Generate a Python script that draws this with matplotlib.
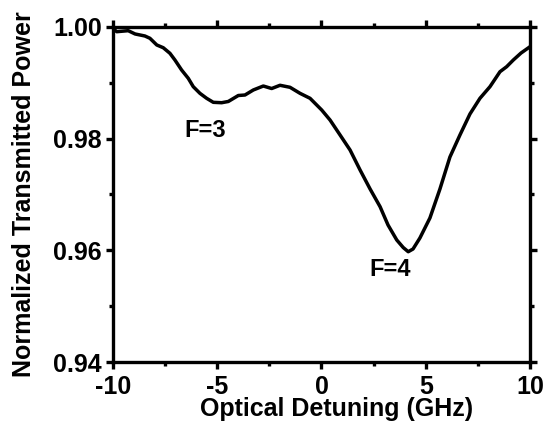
import numpy as np
import matplotlib.pyplot as plt
from matplotlib.ticker import MultipleLocator

# 그래프에서 읽은 값 (GHz, 정규화 투과율)
detuning = [-10.0, -9.82, -9.27, -8.94, -8.47, -8.23, -7.90, -7.59, -7.27, -7.03,
            -6.71, -6.39, -6.15, -5.83, -5.51, -5.19, -4.79, -4.47, -3.99, -3.67,
            -3.27, -2.79, -2.39, -1.99, -1.51, -1.03, -0.55, 0.01, 0.41, 0.89,
            1.37, 1.85, 2.33, 2.81, 3.19, 3.61, 3.92, 4.16, 4.39, 4.72,
            5.20, 5.68, 6.16, 6.64, 7.12, 7.60, 8.08, 8.56, 8.88, 9.20,
            9.57, 10.0]
power = [0.99973, 0.99916, 0.99934, 0.99875, 0.99839, 0.99798, 0.99678, 0.99629, 0.99529, 0.99409,
         0.99230, 0.99081, 0.98931, 0.98812, 0.98723, 0.98651, 0.98644, 0.98666, 0.98773, 0.98782,
         0.98872, 0.98943, 0.98898, 0.98956, 0.98920, 0.98812, 0.98723, 0.98513, 0.98334, 0.98066,
         0.97797, 0.97439, 0.97099, 0.96781, 0.96454, 0.96185, 0.96050, 0.95975, 0.96024, 0.96221,
         0.96579, 0.97098, 0.97672, 0.98066, 0.98442, 0.98723, 0.98931, 0.99199, 0.99289, 0.99409,
         0.99534, 0.99647]

x_ticks = [-10, -5, 0, 5, 10]
x_tick_labels = ['-10', '-5', '0', '5', '10']
y_ticks = [0.94, 0.96, 0.98, 1.00]
y_tick_labels = ['0.94', '0.96', '0.98', '1.00']

plt.rcParams['font.family'] = ['Liberation Sans', 'DejaVu Sans']
plt.rcParams['font.weight'] = 'bold'

fig = plt.figure(figsize=(5.46, 4.34), dpi=100)
ax = fig.add_axes([113 / 546, 1 - 362 / 434, 417 / 546, 335 / 434])

ax.plot(detuning, power, color='black', linewidth=2.5)

ax.set_xlim(-10, 10)
ax.set_ylim(0.94, 1.00)
ax.set_xticks(x_ticks)
ax.set_xticklabels(x_tick_labels)
ax.set_yticks(y_ticks)
ax.set_yticklabels(y_tick_labels)
ax.xaxis.set_minor_locator(MultipleLocator(2.5))
ax.yaxis.set_minor_locator(MultipleLocator(0.01))

for s in ax.spines.values():
    s.set_linewidth(2.4)
ax.tick_params(which='both', direction='out', top=True, right=True, width=2.4,
               labeltop=False, labelright=False, labelsize=18)
ax.tick_params(axis='x', pad=4)
ax.tick_params(axis='y', pad=3)
ax.tick_params(which='major', length=5)
ax.tick_params(which='minor', length=3)

ax.set_xlabel('Optical Detuning (GHz)', fontsize=18, fontweight='bold')
ax.xaxis.set_label_coords(0.535, -0.105)
ax.set_ylabel('Normalized Transmitted Power', fontsize=18, fontweight='bold')
ax.yaxis.set_label_coords(-0.185, 0.5)

# 피크 라벨
ax.text(-5.56, 0.98155, 'F=3', fontsize=17, fontweight='bold', ha='center', va='center')
ax.text(3.31, 0.95648, 'F=4', fontsize=17, fontweight='bold', ha='center', va='center')

fig.savefig('out.png', dpi=100)
